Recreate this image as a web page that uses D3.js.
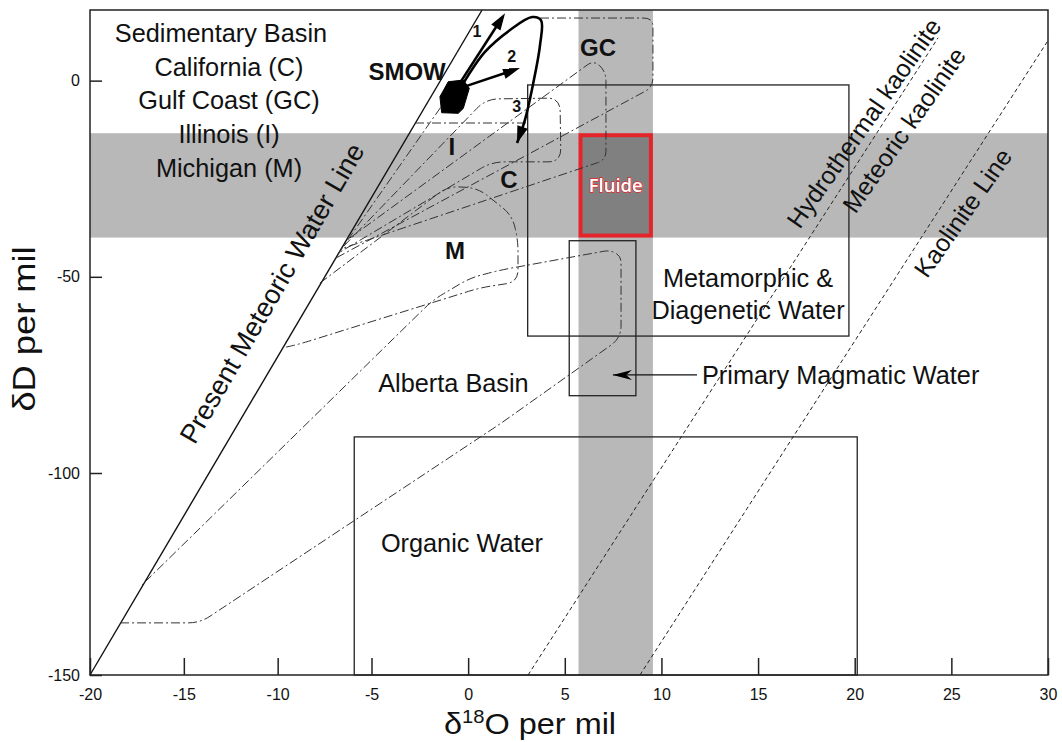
<!DOCTYPE html>
<html><head><meta charset="utf-8">
<script src="https://cdn.jsdelivr.net/npm/d3@7"></script>
<style>
body{margin:0;background:#fff;}
svg{display:block;}
</style></head><body>
<svg id="chart" width="1062" height="742"></svg>
<script>
// ---------- data (δ18O, δD in per mil) ----------
const xTicks = [-20,-15,-10,-5,0,5,10,15,20,25,30];
const yTicks = [0,-50,-100,-150];
const legendLines = ["Sedimentary Basin","California (C)","Gulf Coast (GC)","Illinois (I)","Michigan (M)"];

const meteoricWaterLine = [[-20,-150],[0.72,18]];
const meteoricKaoliniteLine = [[3.10,-150],[24.31,10.9]];
const kaoliniteLine = [[8.89,-150],[30.05,10.6]];

const bandD = [-40.0,-13.4];      // horizontal grey band (δD)
const bandO = [5.71,9.56];        // vertical grey band (δ18O)
const metamorphicO = [3.08,19.70], metamorphicD = [-65.1,-1.1];
const magmaticO = [5.23,8.68],     magmaticD = [-80.3,-40.8];
const organicO = [-5.92,20.13],    organicD = [-150,-90.8];

const smow = [[-1.46,-4.1],[-1.03,-0.28],[-0.25,0.15],[0.06,-1.96],[-0.25,-7.06],[-0.51,-8.33],[-1.37,-8.18]];
const arrow1 = [[-0.53,-1.4],[1.91,17.2]];
const arrow2 = [[-0.11,-1.4],[2.68,3.2]];
const arrow3 = [[-0.27,-0.87],[0.87,7.3],[2.17,12.9],[3.31,16.2],[3.77,15.4],[3.72,9.1],[3.35,-1.1],[2.94,-10.0],[2.53,-15.9]];
const magmaticArrow = [[11.84,-75],[7.49,-75]];

// dash-dot basin envelopes (vertices)
const gcUpper = [[-6.79,-44.2],[-1.30,-5.96]];
const gcOutline = [[3.72,15.95],[9.56,15.95],[9.56,-1.64],[-6.89,-45.2]];
const illinoisTop = [[-2.75,-10.8],[3.04,-10.8]];
const illinois = [[-6.47,-42.15],[0.92,-4.69],[4.75,-4.43],[4.80,-20.7],[1.23,-20.7],[-6.68,-43.7]];
const california = [[-6.15,-40.1],[6.51,5.25],[7.13,2.2],[7.13,-20.2],[-6.63,-42.9]];
const michigan = [[-7.75,-51.6],[-1.04,-26.9],[0.51,-27.4],[2.27,-34.3],[2.58,-40.6],[2.58,-51.3],[0.61,-52.8],[-8.81,-67.1],[-9.72,-68.1]];
const alberta = [[-18.40,-137.1],[-14.14,-137.1],[1.65,-87.5],[7.91,-65.6],[7.91,-44.7],[7.34,-43.2],[1.65,-48.3],[0.10,-50.3],[-1.82,-55.9],[-17.23,-127.7]];

const regionLabels = [
  {t:"Alberta Basin", o:-0.76, d:-77.1},
  {t:"Organic Water", o:-0.32, d:-117.3},
  {t:"Metamorphic &", o:14.48, d:-50.3},
  {t:"Diagenetic Water", o:14.48, d:-58.5}
];
const basinLabels = [
  {t:"SMOW", o:-3.16, d:2.2},
  {t:"GC", o:6.72, d:8.3},
  {t:"I", o:-0.84, d:-16.7},
  {t:"C", o:2.11, d:-25.3},
  {t:"M", o:-0.68, d:-43.2}
];
const arrowNumbers = [
  {t:"1", o:0.45, d:12.5},
  {t:"2", o:2.25, d:6.1},
  {t:"3", o:2.51, d:-6.65}
];
const lineLabels = [
  {t:"Present Meteoric Water Line", o:-9.5, d:-56.4, side:-1},
  {t:"Hydrothermal kaolinite", o:20.48, d:-10.8, side:0},
  {t:"Meteoric kaolinite", o:22.55, d:-12.6, side:0},
  {t:"Kaolinite Line", o:25.6, d:-33.7, side:0}
];

// ---------- drawing ----------
const FONT = "'Liberation Sans', Arial, Helvetica, sans-serif";
const svg = d3.select("#chart");
const x = d3.scaleLinear().domain([-20,-5,30]).range([90,371.5,1048]);
const y = d3.scaleLinear().domain([-150,-100,18]).range([675,473,10]);
const X0 = x(-20), X1 = x(30), Y0 = y(18), Y1 = y(-150);

const BAND = "#b8b8b8";
svg.append("rect").attr("x",X0).attr("width",X1-X0)
  .attr("y",y(bandD[1])).attr("height",y(bandD[0])-y(bandD[1])).attr("fill",BAND);
svg.append("rect").attr("x",x(bandO[0])).attr("width",x(bandO[1])-x(bandO[0]))
  .attr("y",Y0).attr("height",Y1-Y0).attr("fill",BAND);
svg.append("rect").attr("x",x(bandO[0])+2).attr("width",x(bandO[1])-x(bandO[0])-4)
  .attr("y",y(bandD[1])+2).attr("height",y(bandD[0])-y(bandD[1])-4)
  .attr("fill","#808080").attr("stroke","#e3242b").attr("stroke-width",4);

function box(o,d){
  svg.append("rect").attr("x",x(o[0])).attr("width",x(o[1])-x(o[0]))
    .attr("y",y(d[1])).attr("height",y(d[0])-y(d[1]))
    .attr("fill","none").attr("stroke","#222").attr("stroke-width",1.3);
}
box(metamorphicO,metamorphicD);
box(magmaticO,magmaticD);
box(organicO,organicD);

const line = d3.line().x(d=>x(d[0])).y(d=>y(d[1]));
[meteoricKaoliniteLine,kaoliniteLine].forEach(l=>{
  svg.append("path").attr("d",line(l)).attr("fill","none").attr("stroke","#222")
    .attr("stroke-width",1).attr("stroke-dasharray","4,3");
});
svg.append("path").attr("d",line(meteoricWaterLine)).attr("fill","none")
  .attr("stroke","#111").attr("stroke-width",1.4);

// polyline with rounded corners (radius in px)
function rounded(pts,r){
  const P = pts.map(d=>[x(d[0]),y(d[1])]);
  let s = `M${P[0][0]},${P[0][1]}`;
  for(let i=1;i<P.length-1;i++){
    const a=P[i-1], b=P[i], c=P[i+1];
    const l1=Math.hypot(b[0]-a[0],b[1]-a[1]), l2=Math.hypot(c[0]-b[0],c[1]-b[1]);
    const rr=Math.min(r,l1/2,l2/2);
    const p1=[b[0]-(b[0]-a[0])/l1*rr, b[1]-(b[1]-a[1])/l1*rr];
    const p2=[b[0]+(c[0]-b[0])/l2*rr, b[1]+(c[1]-b[1])/l2*rr];
    s += `L${p1[0]},${p1[1]}Q${b[0]},${b[1]} ${p2[0]},${p2[1]}`;
  }
  const L=P[P.length-1];
  return s + `L${L[0]},${L[1]}`;
}
[[gcUpper,0],[gcOutline,9],[illinoisTop,0],[illinois,13],[california,9],[michigan,12],[alberta,12]].forEach(([p,r])=>{
  svg.append("path").attr("d",rounded(p,r)).attr("fill","none").attr("stroke","#333")
    .attr("stroke-width",1).attr("stroke-dasharray","9,3,2,3");
});

svg.append("path").attr("d",line(smow)+"Z").attr("fill","#000").attr("stroke","#000").attr("stroke-width",1);

function head(from,tip,len,w,notch){
  const fx=x(from[0]),fy=y(from[1]),tx=x(tip[0]),ty=y(tip[1]);
  const L=Math.hypot(tx-fx,ty-fy), ux=(tx-fx)/L, uy=(ty-fy)/L, nx=-uy, ny=ux;
  const bx=tx-ux*len, by=ty-uy*len;
  const pts=[[tx,ty],[bx+nx*w,by+ny*w]];
  if(notch) pts.push([tx-ux*len*notch,ty-uy*len*notch]);
  pts.push([bx-nx*w,by-ny*w]);
  svg.append("path").attr("d","M"+pts.map(p=>p.join(",")).join("L")+"Z").attr("fill","#000");
}
function shortEnd(pts,cut){
  const a=pts[pts.length-2], b=pts[pts.length-1];
  const ax=x(a[0]),ay=y(a[1]),bx=x(b[0]),by=y(b[1]);
  const L=Math.hypot(bx-ax,by-ay);
  return [bx-(bx-ax)/L*cut, by-(by-ay)/L*cut];
}
[arrow1,arrow2].forEach(a=>{
  const e=shortEnd(a,10);
  svg.append("path").attr("d",`M${x(a[0][0])},${y(a[0][1])}L${e[0]},${e[1]}`)
    .attr("stroke","#000").attr("stroke-width",2.6).attr("fill","none");
  head(a[0],a[1],17,5.5,0);
});
svg.append("path").attr("d",d3.line().x(d=>x(d[0])).y(d=>y(d[1])).curve(d3.curveCatmullRom.alpha(0.5))(arrow3))
  .attr("fill","none").attr("stroke","#000").attr("stroke-width",2.6);
head(arrow3[arrow3.length-2],arrow3[arrow3.length-1],17,5.5,0);

svg.append("path").attr("d",line(magmaticArrow)).attr("stroke","#111").attr("stroke-width",1.3);
head(magmaticArrow[0],magmaticArrow[1],19,5,0.7);

// frame
svg.append("rect").attr("x",X0).attr("y",Y0).attr("width",X1-X0).attr("height",Y1-Y0)
  .attr("fill","none").attr("stroke","#222").attr("stroke-width",1.5);

// axes
const gx = svg.append("g").attr("transform",`translate(0,${Y1})`)
  .call(d3.axisBottom(x).tickValues(xTicks).tickSizeInner(-17).tickSizeOuter(0).tickPadding(14).tickFormat(d=>String(d)));
const gy = svg.append("g").attr("transform",`translate(${X0},0)`)
  .call(d3.axisLeft(y).tickValues(yTicks).tickSizeInner(-12).tickSizeOuter(0).tickPadding(10).tickFormat(d=>String(d)));
[gx,gy].forEach(g=>{
  g.select(".domain").remove();
  g.selectAll("line").attr("stroke","#222").attr("stroke-width",1.5);
  g.selectAll("text").attr("font-size",16).attr("font-family",FONT).attr("fill","#111");
});

// axis titles
const xt = svg.append("text").attr("transform","translate(530,734) scale(1.12,1)").attr("text-anchor","middle")
  .attr("font-family",FONT).attr("font-size",29).attr("fill","#111");
xt.append("tspan").text("δ");
xt.append("tspan").attr("dy",-11).attr("font-size",18).text("18");
xt.append("tspan").attr("dy",11).text("O per mil");
svg.append("text").attr("transform","translate(35,329) rotate(-90) scale(1.17,1)").attr("text-anchor","middle")
  .attr("font-family",FONT).attr("font-size",31).attr("fill","#111").text("δD per mil");

// legend block
const BIG = 25.3;
legendLines.forEach((t,i)=>{
  svg.append("text").attr("x", i===0?221:229).attr("y",33+i*33.8).attr("dy","0.35em")
    .attr("text-anchor","middle").attr("font-family",FONT).attr("font-size",BIG).attr("fill","#111").text(t);
});
regionLabels.forEach(l=>{
  svg.append("text").attr("x",x(l.o)).attr("y",y(l.d)).attr("dy","0.35em").attr("text-anchor","middle")
    .attr("font-family",FONT).attr("font-size",BIG).attr("fill","#111").text(l.t);
});
svg.append("text").attr("x",x(magmaticArrow[0][0])+5).attr("y",y(magmaticArrow[0][1])).attr("dy","0.35em")
  .attr("font-family",FONT).attr("font-size",BIG).attr("fill","#111").text("Primary Magmatic Water");

basinLabels.forEach(l=>{
  svg.append("text").attr("x",x(l.o)).attr("y",y(l.d)).attr("dy","0.35em").attr("text-anchor","middle")
    .attr("font-family",FONT).attr("font-weight","bold").attr("font-size",24).attr("fill","#111").text(l.t);
});
arrowNumbers.forEach(l=>{
  svg.append("text").attr("x",x(l.o)).attr("y",y(l.d)).attr("dy","0.35em").attr("text-anchor","middle")
    .attr("font-family",FONT).attr("font-weight","bold").attr("font-size",16).attr("fill","#111").text(l.t);
});

lineLabels.forEach(l=>{
  const ang = l.side===-1 ? -60 : -55;
  svg.append("text").attr("transform",`translate(${x(l.o)},${y(l.d)}) rotate(${ang})`)
    .attr("dy", l.side===-1 ? "-0.3em" : "0.35em").attr("text-anchor","middle")
    .attr("font-family",FONT).attr("font-size",l.side===-1?27:25).attr("fill","#111").text(l.t);
});

svg.append("text").attr("x",x((bandO[0]+bandO[1])/2)).attr("y",y((bandD[0]+bandD[1])/2)).attr("dy","0.35em")
  .attr("text-anchor","middle").attr("font-family","'Open Sans', 'Noto Sans', sans-serif").attr("font-weight",600)
  .attr("font-size",18.5).attr("fill","#fff").attr("stroke","#e3242b").attr("stroke-width",1.3)
  .attr("paint-order","stroke").text("Fluide");
</script>
</body></html>
